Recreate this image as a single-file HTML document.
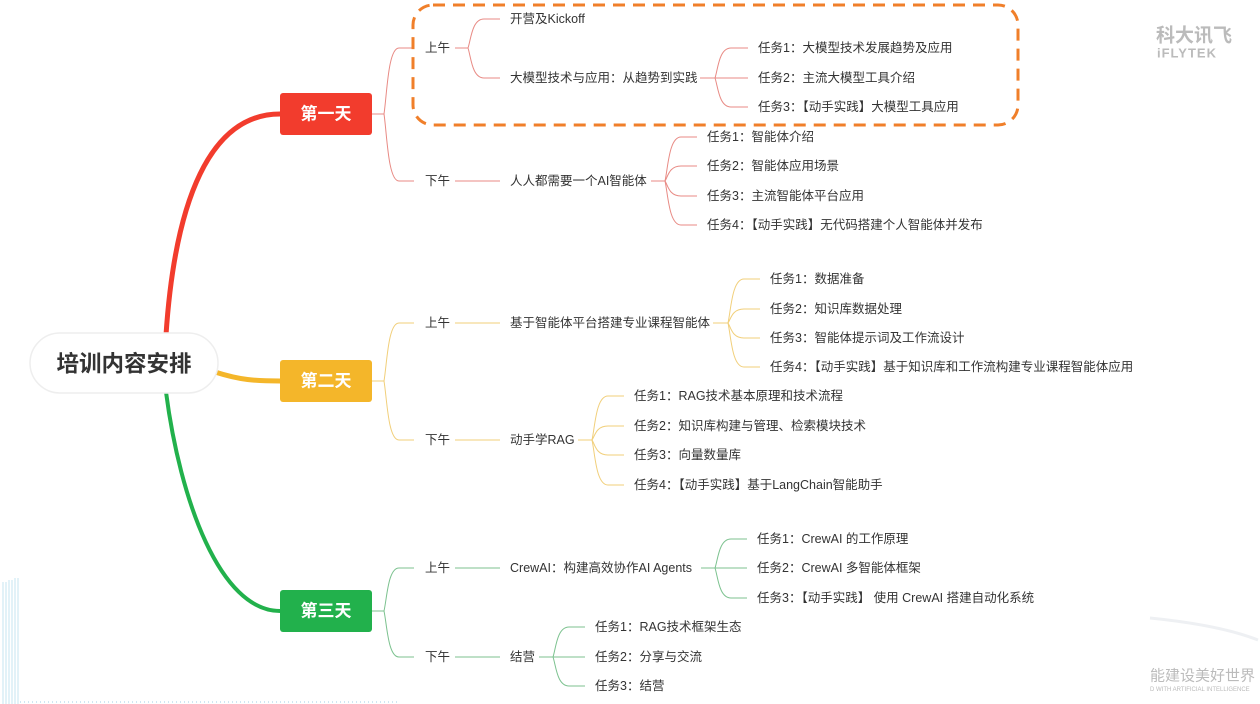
<!DOCTYPE html>
<html><head><meta charset="utf-8"><style>
html,body{margin:0;padding:0;background:#fff}
svg{display:block}
text{font-family:"Liberation Sans","Noto Sans CJK SC",sans-serif;font-size:12.5px;fill:#333;dominant-baseline:central}
.b{font-weight:bold;fill:#fff;font-size:17px;text-anchor:middle}
</style></head><body>
<svg id="s" width="1260" height="704" viewBox="0 0 1260 704" xmlns="http://www.w3.org/2000/svg">
<g id="deco" stroke="#b8def0" stroke-width="1" opacity="0.8">
<line x1="3" y1="582" x2="3" y2="704"/><line x1="6" y1="582" x2="6" y2="704"/><line x1="9" y1="580" x2="9" y2="704"/><line x1="12" y1="580" x2="12" y2="704"/><line x1="15" y1="578" x2="15" y2="704"/><line x1="18" y1="578" x2="18" y2="704"/>
</g>
<line x1="20" y1="702" x2="400" y2="702" stroke="#cfe6f2" stroke-width="2" stroke-dasharray="1 3"/>
<path d="M1150 618 Q1220 625 1258 640" stroke="#eef0f3" stroke-width="3" fill="none"/>
<text x="1156" y="36" style="font-size:19px;font-weight:bold;fill:#bbb">科大讯飞</text>
<text x="1157" y="53" style="font-size:13px;font-weight:bold;fill:#bbb;letter-spacing:1px">iFLYTEK</text>
<text x="1150" y="676" style="font-size:15px;fill:#bbb">能建设美好世界</text>
<text x="1150" y="690" style="font-size:6px;fill:#bbb">D WITH ARTIFICIAL INTELLIGENCE</text>

<path d="M166 335 C175 200 210 114 280 114" stroke="#f23c2d" stroke-width="5" fill="none"/>
<path d="M215 372 C240 380 255 381 280 381" stroke="#f4b62a" stroke-width="5" fill="none"/>
<path d="M166 392 C180 500 220 611 280 611" stroke="#22b14c" stroke-width="4" fill="none"/>

<rect x="30" y="333" width="188" height="60" rx="30" fill="#fff" stroke="#eee" stroke-width="1.5"/>
<text x="124" y="364" style="font-size:22.5px;font-weight:bold;text-anchor:middle;fill:#333">培训内容安排</text>

<rect x="280" y="93" width="92" height="42" rx="3" fill="#f23c2d"/>
<text class="b" x="326" y="114">第一天</text>
<rect x="280" y="360" width="92" height="42" rx="3" fill="#f4b62a"/>
<text class="b" x="326" y="381">第二天</text>
<rect x="280" y="590" width="92" height="42" rx="3" fill="#22b14c"/>
<text class="b" x="326" y="611">第三天</text>

<g id="conns" fill="none" stroke-width="1"></g>

<rect x="413" y="5" width="605" height="120" rx="20" fill="none" stroke="#f07f2a" stroke-width="3" stroke-dasharray="12 8"/>

<text x="425" y="48">上午</text><text x="425" y="181">下午</text>
<text x="510" y="19">开营及Kickoff</text>
<text x="510" y="78">大模型技术与应用：从趋势到实践</text>
<text x="758" y="48">任务1：大模型技术发展趋势及应用</text>
<text x="758" y="78">任务2：主流大模型工具介绍</text>
<text x="758" y="107">任务3：【动手实践】大模型工具应用</text>
<text x="510" y="181">人人都需要一个AI智能体</text>
<text x="707" y="137">任务1：智能体介绍</text>
<text x="707" y="166">任务2：智能体应用场景</text>
<text x="707" y="196">任务3：主流智能体平台应用</text>
<text x="707" y="225">任务4：【动手实践】无代码搭建个人智能体并发布</text>

<text x="425" y="323">上午</text><text x="425" y="440">下午</text>
<text x="510" y="323">基于智能体平台搭建专业课程智能体</text>
<text x="770" y="279">任务1：数据准备</text>
<text x="770" y="309">任务2：知识库数据处理</text>
<text x="770" y="338">任务3：智能体提示词及工作流设计</text>
<text x="770" y="367">任务4：【动手实践】基于知识库和工作流构建专业课程智能体应用</text>
<text x="510" y="440">动手学RAG</text>
<text x="634" y="396">任务1：RAG技术基本原理和技术流程</text>
<text x="634" y="426">任务2：知识库构建与管理、检索模块技术</text>
<text x="634" y="455">任务3：向量数量库</text>
<text x="634" y="485">任务4：【动手实践】基于LangChain智能助手</text>

<text x="425" y="568">上午</text><text x="425" y="657">下午</text>
<text x="510" y="568">CrewAI：构建高效协作AI Agents</text>
<text x="757" y="539">任务1：CrewAI 的工作原理</text>
<text x="757" y="568">任务2：CrewAI 多智能体框架</text>
<text x="757" y="598">任务3：【动手实践】 使用 CrewAI 搭建自动化系统</text>
<text x="510" y="657">结营</text>
<text x="595" y="627">任务1：RAG技术框架生态</text>
<text x="595" y="657">任务2：分享与交流</text>
<text x="595" y="686">任务3：结营</text>
</svg>
<script>
var g=document.getElementById('conns'),NS='http://www.w3.org/2000/svg';
function p(d,c){var e=document.createElementNS(NS,'path');e.setAttribute('d',d);e.setAttribute('stroke',c);g.appendChild(e);}
function conn(x0,y0,xf,ys,xe,c){
 p('M'+x0+' '+y0+' L'+xf+' '+y0,c);
 ys.forEach(function(y){
  if(y==y0){p('M'+xf+' '+y0+' L'+xe+' '+y,c);return;}
  var m=xf+Math.min(16,(xe-xf)*0.5);
  p('M'+xf+' '+y0+' C'+(xf+3)+' '+(y0+(y-y0)*0.3)+' '+(xf+4)+' '+y+' '+m+' '+y+' L'+xe+' '+y,c);
 });
}
var R='#e88a84',Y='#f1cf7a',G='#7cc28f';
conn(372,114,384,[48,181],414,R);
conn(455,48,468,[19,78],500,R);
conn(700,78,715,[48,78,107],748,R);
conn(455,181,480,[181],500,R);
conn(651,181,665,[137,166,196,225],697,R);
conn(372,381,384,[323,440],414,Y);
conn(455,323,480,[323],500,Y);
conn(713,323,728,[279,309,338,367],760,Y);
conn(455,440,480,[440],500,Y);
conn(578,440,592,[396,426,455,485],624,Y);
conn(372,611,384,[568,657],414,G);
conn(455,568,480,[568],500,G);
conn(701,568,715,[539,568,598],747,G);
conn(455,657,480,[657],500,G);
conn(539,657,553,[627,657,686],585,G);
</script>
</body></html>
